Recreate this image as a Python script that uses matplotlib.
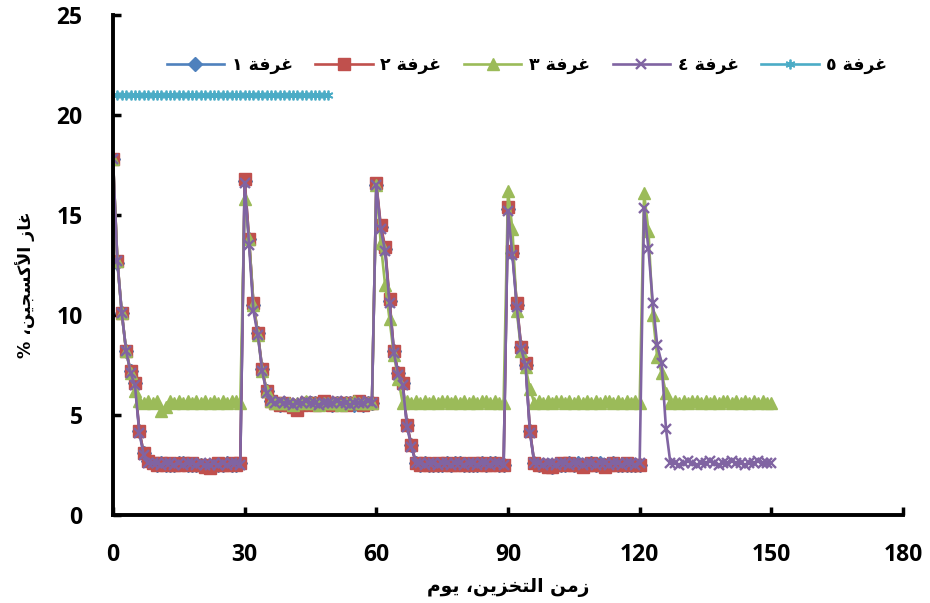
import matplotlib
matplotlib.use("Agg")
import matplotlib.pyplot as plt

# ---------------------------------------------------------------- data
days = list(range(151))

room1_o2 = [
    17.8, 12.6, 10.1, 8.2, 7.2, 6.6, 4.2, 3.1, 2.7, 2.6,
    2.5, 2.6, 2.5, 2.5, 2.5, 2.6, 2.6, 2.5, 2.5, 2.5,
    2.5, 2.4, 2.4, 2.5, 2.5, 2.5, 2.6, 2.5, 2.5, 2.6,
    16.7, 13.8, 10.5, 9.1, 7.3, 6.2, 5.7, 5.6, 5.5, 5.6,
    5.5, 5.5, 5.3, 5.5, 5.6, 5.6, 5.6, 5.6, 5.6, 5.6,
    5.5, 5.6, 5.6, 5.6, 5.6, 5.5, 5.6, 5.5, 5.6, 5.6,
    16.5, 14.4, 13.3, 10.7, 8.2, 7.1, 6.6, 4.5, 3.5, 2.6,
    2.5, 2.6, 2.5, 2.5, 2.5, 2.5, 2.6, 2.5, 2.6, 2.6,
    2.5, 2.5, 2.5, 2.5, 2.6, 2.5, 2.6, 2.6, 2.5, 2.5,
    15.3, 13.1, 10.5, 8.4, 7.5, 4.2, 2.6, 2.5, 2.5, 2.5,
    2.4, 2.5, 2.5, 2.5, 2.6, 2.5, 2.6, 2.5, 2.5, 2.6,
    2.5, 2.6, 2.5, 2.5, 2.6, 2.5, 2.5, 2.5, 2.5, 2.5,
    2.5,
]

room2_o2 = [
    17.8, 12.7, 10.1, 8.2, 7.2, 6.6, 4.2, 3.1, 2.7, 2.6,
    2.5, 2.6, 2.5, 2.6, 2.5, 2.5, 2.6, 2.5, 2.6, 2.5,
    2.5, 2.4, 2.35, 2.5, 2.6, 2.5, 2.5, 2.6, 2.5, 2.6,
    16.8, 13.8, 10.6, 9.1, 7.3, 6.2, 5.7, 5.6, 5.5, 5.6,
    5.5, 5.4, 5.25, 5.5, 5.6, 5.6, 5.5, 5.6, 5.7, 5.6,
    5.5, 5.6, 5.6, 5.5, 5.6, 5.6, 5.7, 5.5, 5.6, 5.6,
    16.6, 14.5, 13.4, 10.8, 8.2, 7.1, 6.6, 4.5, 3.5, 2.6,
    2.5, 2.6, 2.5, 2.5, 2.6, 2.5, 2.6, 2.5, 2.5, 2.6,
    2.5, 2.5, 2.6, 2.5, 2.6, 2.5, 2.5, 2.6, 2.5, 2.5,
    15.4, 13.2, 10.6, 8.4, 7.6, 4.2, 2.6, 2.5, 2.5, 2.4,
    2.4, 2.5, 2.6, 2.5, 2.6, 2.5, 2.5, 2.4, 2.5, 2.6,
    2.5, 2.5, 2.4, 2.5, 2.6, 2.5, 2.5, 2.6, 2.5, 2.5,
    2.5,
]

room3_o2 = [
    17.8, 12.7, 10.1, 8.2, 7.1, 6.2, 5.7, 5.6, 5.7, 5.6,
    5.7, 5.2, 5.4, 5.7, 5.6, 5.7, 5.6, 5.7, 5.6, 5.7,
    5.6, 5.7, 5.6, 5.7, 5.6, 5.7, 5.6, 5.7, 5.7, 5.6,
    15.8, 13.8, 10.5, 9.0, 7.2, 6.2, 5.7, 5.6, 5.6, 5.6,
    5.6, 5.5, 5.6, 5.6, 5.7, 5.6, 5.6, 5.5, 5.6, 5.6,
    5.6, 5.6, 5.5, 5.6, 5.6, 5.7, 5.6, 5.6, 5.6, 5.6,
    16.5, 13.6, 11.5, 9.8, 8.0, 6.8, 5.6, 5.7, 5.6, 5.7,
    5.6, 5.7, 5.6, 5.7, 5.6, 5.7, 5.7, 5.6, 5.7, 5.6,
    5.7, 5.6, 5.7, 5.6, 5.7, 5.7, 5.6, 5.7, 5.6, 5.6,
    16.2, 14.3, 10.2, 8.2, 7.4, 6.3, 5.6, 5.7, 5.6, 5.7,
    5.6, 5.7, 5.7, 5.6, 5.7, 5.6, 5.7, 5.6, 5.7, 5.6,
    5.7, 5.6, 5.7, 5.7, 5.6, 5.7, 5.6, 5.7, 5.6, 5.7,
    5.6, 16.1, 14.2, 10.0, 7.9, 7.1, 6.1, 5.6, 5.7, 5.6,
    5.7, 5.6, 5.7, 5.7, 5.6, 5.7, 5.6, 5.7, 5.6, 5.7,
    5.7, 5.6, 5.7, 5.6, 5.7, 5.6, 5.7, 5.6, 5.7, 5.6,
    5.6,
]

room4_o2 = [
    17.8, 12.7, 10.1, 8.2, 7.1, 6.5, 4.1, 3.0, 2.6, 2.6,
    2.6, 2.5, 2.6, 2.6, 2.5, 2.6, 2.5, 2.6, 2.6, 2.5,
    2.6, 2.5, 2.5, 2.6, 2.5, 2.6, 2.5, 2.6, 2.6, 2.5,
    16.6, 13.5, 10.2, 9.0, 7.2, 6.1, 5.7, 5.6, 5.7, 5.6,
    5.6, 5.5, 5.6, 5.6, 5.7, 5.6, 5.6, 5.5, 5.6, 5.6,
    5.6, 5.7, 5.6, 5.6, 5.5, 5.6, 5.6, 5.6, 5.7, 5.6,
    16.5, 14.3, 13.2, 10.6, 8.1, 7.0, 6.5, 4.4, 3.4, 2.6,
    2.6, 2.5, 2.6, 2.6, 2.5, 2.6, 2.6, 2.5, 2.6, 2.6,
    2.5, 2.6, 2.6, 2.5, 2.6, 2.6, 2.5, 2.6, 2.6, 2.5,
    15.2, 13.0, 10.4, 8.3, 7.5, 4.1, 2.6, 2.6, 2.5, 2.6,
    2.6, 2.5, 2.6, 2.6, 2.5, 2.6, 2.6, 2.5, 2.6, 2.6,
    2.5, 2.6, 2.6, 2.5, 2.6, 2.6, 2.5, 2.6, 2.6, 2.5,
    2.6, 15.35, 13.3, 10.6, 8.5, 7.6, 4.3, 2.6, 2.6, 2.5,
    2.6, 2.7, 2.6, 2.5, 2.6, 2.6, 2.7, 2.6, 2.5, 2.6,
    2.6, 2.7, 2.6, 2.6, 2.5, 2.6, 2.6, 2.7, 2.6, 2.6,
    2.6,
]

room5_o2 = [
    21.0, 21.0, 21.0, 21.0, 21.0, 21.0, 21.0, 21.0, 21.0, 21.0,
    21.0, 21.0, 21.0, 21.0, 21.0, 21.0, 21.0, 21.0, 21.0, 21.0,
    21.0, 21.0, 21.0, 21.0, 21.0, 21.0, 21.0, 21.0, 21.0, 21.0,
    21.0, 21.0, 21.0, 21.0, 21.0, 21.0, 21.0, 21.0, 21.0, 21.0,
    21.0, 21.0, 21.0, 21.0, 21.0, 21.0, 21.0, 21.0, 21.0, 21.0,
]

room_names = ["غرفة ١", "غرفة ٢", "غرفة ٣", "غرفة ٤", "غرفة ٥"]
x_label = "زمن التخزين، يوم"
y_label = "غاز الأكسجين، %"
x_ticks = [0, 30, 60, 90, 120, 150, 180]
y_ticks = [0, 5, 10, 15, 20, 25]

# ---------------------------------------------------------------- arabic shaping
# (isolated, final, initial, medial) presentation forms
FORMS = {
    "ا": ("\uFE8D", "\uFE8E", None, None),
    "أ": ("\uFE83", "\uFE84", None, None),
    "ة": ("\uFE93", "\uFE94", None, None),
    "ت": ("\uFE95", "\uFE96", "\uFE97", "\uFE98"),
    "ج": ("\uFE9D", "\uFE9E", "\uFE9F", "\uFEA0"),
    "خ": ("\uFEA5", "\uFEA6", "\uFEA7", "\uFEA8"),
    "ر": ("\uFEAD", "\uFEAE", None, None),
    "ز": ("\uFEAF", "\uFEB0", None, None),
    "س": ("\uFEB1", "\uFEB2", "\uFEB3", "\uFEB4"),
    "غ": ("\uFECD", "\uFECE", "\uFECF", "\uFED0"),
    "ف": ("\uFED1", "\uFED2", "\uFED3", "\uFED4"),
    "ك": ("\uFED9", "\uFEDA", "\uFEDB", "\uFEDC"),
    "ل": ("\uFEDD", "\uFEDE", "\uFEDF", "\uFEE0"),
    "م": ("\uFEE1", "\uFEE2", "\uFEE3", "\uFEE4"),
    "ن": ("\uFEE5", "\uFEE6", "\uFEE7", "\uFEE8"),
    "و": ("\uFEED", "\uFEEE", None, None),
    "ي": ("\uFEF1", "\uFEF2", "\uFEF3", "\uFEF4"),
}
LAM_ALEF = {"ا": ("\uFEFB", "\uFEFC"), "أ": ("\uFEF7", "\uFEF8")}


def shape(text):
    """Join Arabic letters and return them in display (left-to-right) order."""
    out = []
    prev_joins = False
    i, n = 0, len(text)
    while i < n:
        ch = text[i]
        if ch == "ل" and i + 1 < n and text[i + 1] in LAM_ALEF:
            iso, fin = LAM_ALEF[text[i + 1]]
            out.append(fin if prev_joins else iso)
            prev_joins = False
            i += 2
            continue
        if ch in FORMS:
            iso, fin, ini, med = FORMS[ch]
            nxt = text[i + 1] if i + 1 < n else ""
            next_joins = ini is not None and nxt in FORMS
            if prev_joins and next_joins:
                out.append(med)
            elif prev_joins:
                out.append(fin)
            elif next_joins:
                out.append(ini)
            else:
                out.append(iso)
            prev_joins = ini is not None
        else:
            out.append(ch)
            prev_joins = False
        i += 1
    return "".join(reversed(out))


# ---------------------------------------------------------------- figure
ARABIC = ["DejaVu Sans"]
NUM = ["Open Sans", "DejaVu Sans"]

fig = plt.figure(figsize=(9.30, 6.03), dpi=100)
ax = fig.add_axes([113 / 930, 1 - 515 / 603, 790 / 930, 500 / 603])

styles = [
    dict(color="#4F81BD", marker="D", ms=7),
    dict(color="#C0504D", marker="s", ms=8),
    dict(color="#9BBB59", marker="^", ms=8.5),
    dict(color="#8064A2", marker="x", ms=7.5, mew=1.7),
    dict(color="#4BACC6", marker=(6, 2, 0), ms=7, mew=1.3),
]
series = [
    (days[:len(room1_o2)], room1_o2),
    (days[:len(room2_o2)], room2_o2),
    (days[:len(room3_o2)], room3_o2),
    (days[:len(room4_o2)], room4_o2),
    (days[:len(room5_o2)], room5_o2),
]

handles = []
for (xs, ys), st, name in zip(series, styles, room_names):
    line, = ax.plot(xs, ys, lw=1.9, color=st["color"], marker=st["marker"],
                    ms=st["ms"], mfc=st["color"], mec=st["color"],
                    mew=st.get("mew", 1.0), label=shape(name))
    handles.append(line)

ax.set_xlim(0, 180)
ax.set_ylim(0, 25)
ax.set_xticks(x_ticks)
ax.set_yticks(y_ticks)

for side in ("top", "right"):
    ax.spines[side].set_visible(False)
for side in ("left", "bottom"):
    ax.spines[side].set_linewidth(2.8)
    ax.spines[side].set_color("black")

ax.tick_params(axis="both", direction="in", length=6, width=2.5)
ax.tick_params(axis="y", pad=22)
ax.tick_params(axis="x", pad=20)
for lab in ax.get_xticklabels() + ax.get_yticklabels():
    lab.set_fontfamily(NUM)
    lab.set_fontweight("bold")
    lab.set_fontsize(16.5)

ax.set_xlabel(shape(x_label), fontfamily=ARABIC, fontweight="bold",
              fontsize=13.5, labelpad=8)
ax.set_ylabel(shape(y_label), fontfamily=ARABIC, fontweight="bold",
              fontsize=12.5)
ax.yaxis.set_label_coords(-0.098, 0.46)

leg = ax.legend(handles=handles, labels=[shape(n) for n in room_names],
                ncol=5, loc="center", bbox_to_anchor=(527 / 930, 1 - 65 / 603),
                bbox_transform=fig.transFigure, frameon=False,
                handlelength=3.3, handletextpad=0.45, columnspacing=1.3,
                prop=dict(family=ARABIC, weight="bold", size=12.5))

fig.savefig("out.png", dpi=100, facecolor="white")
